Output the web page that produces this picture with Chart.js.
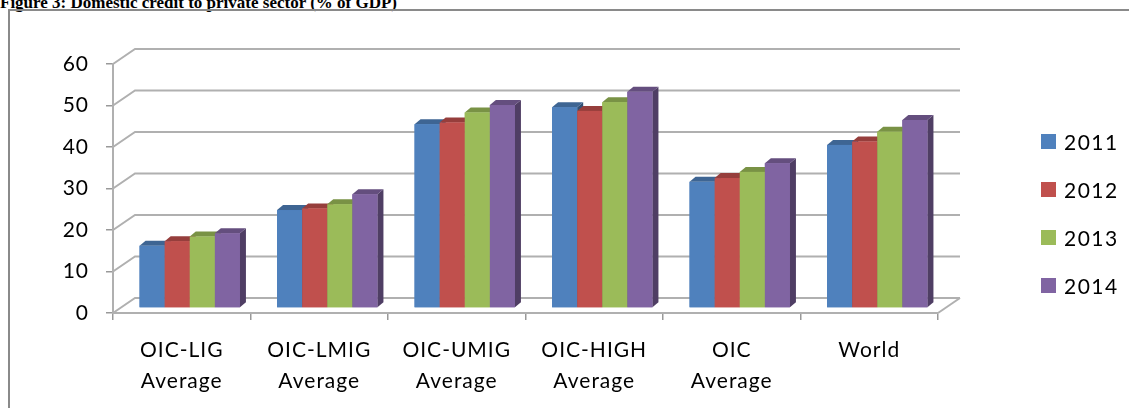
<!DOCTYPE html>
<html>
<head>
<meta charset="utf-8">
<script src="https://cdn.jsdelivr.net/npm/chart.js@4.4.1/dist/chart.umd.min.js"></script>
<style>
  html, body { margin: 0; padding: 0; background: #fff; }
  #wrap { position: relative; width: 1129px; height: 408px; overflow: hidden; }
  #title { position: absolute; left: 0; top: -6px; font: bold 17px "Liberation Serif", serif; line-height: 1; white-space: nowrap; }
  #frame { position: absolute; left: 8px; top: 9px; width: 1300px; height: 600px; border: 2px solid #8a8a8a; box-sizing: border-box; }
  #chart { position: absolute; left: 0; top: 0; }
  #legend { position: absolute; left: 1041px; top: 117px; font: 21px Lato, sans-serif; letter-spacing: 1.5px; }
  .item { height: 48px; display: flex; align-items: center; }
  .sw { width: 15px; height: 15px; margin-right: 8px; }
</style>
</head>
<body>
<div id="wrap">
  <div id="title">Figure 3: Domestic credit to private sector (% of GDP)</div>
  <div id="frame"></div>
  <canvas id="chart" width="1129" height="408"></canvas>
  <div id="legend"></div>
</div>
<script>
const categories = [['OIC-LIG', 'Average'], ['OIC-LMIG', 'Average'], ['OIC-UMIG', 'Average'],
  ['OIC-HIGH', 'Average'], ['OIC', 'Average'], ['World']];
const years = ['2011', '2012', '2013', '2014'];
const s2011 = [15.0, 23.6, 44.3, 48.4, 30.4, 39.3];
const s2012 = [16.1, 24.0, 44.7, 47.5, 31.3, 40.1];
const s2013 = [17.2, 25.0, 47.1, 49.6, 32.8, 42.5];
const s2014 = [18.0, 27.4, 48.9, 52.1, 34.9, 45.3];
const colors = ['#4F81BD', '#C0504D', '#9BBB59', '#8064A2'];

// 3d look: wall offset, bar plane offset, bar depth
const WALL = { dx: 22, dy: 15 };
const PLANE = { dx: 8, dy: 5 };
const DEPTH = { dx: 6, dy: 5 };

function shade(hex, f) {
  const n = parseInt(hex.slice(1), 16);
  const r = Math.round(((n >> 16) & 255) * f);
  const g = Math.round(((n >> 8) & 255) * f);
  const b = Math.round((n & 255) * f);
  return `rgb(${r},${g},${b})`;
}

const threeD = {
  id: 'threeD',
  beforeDraw(chart) {
    chart.ctx.letterSpacing = '1px';
  },
  beforeDatasetsDraw(chart) {
    const { ctx, chartArea: a, scales: { y } } = chart;
    ctx.save();
    ctx.strokeStyle = '#b0b0b0';
    ctx.lineWidth = 2;
    y.ticks.forEach(t => {
      const py = y.getPixelForValue(t.value);
      ctx.beginPath();
      ctx.moveTo(a.left, py);
      ctx.lineTo(a.left + WALL.dx, py - WALL.dy);
      ctx.lineTo(a.right + WALL.dx, py - WALL.dy);
      ctx.stroke();
    });
    // right edge of the floor
    ctx.beginPath();
    ctx.moveTo(a.right, a.bottom);
    ctx.lineTo(a.right + WALL.dx, a.bottom - WALL.dy);
    ctx.stroke();
    ctx.restore();
    // bars sit a little behind the front axis
    ctx.save();
    ctx.translate(PLANE.dx, -PLANE.dy);
  },
  afterDatasetsDraw(chart) {
    const ctx = chart.ctx;
    // chart.js paints datasets last-to-first, so repaint left to right with depth faces
    const metas = chart.getSortedVisibleDatasetMetas();
    categories.forEach((_, j) => {
      metas.forEach(meta => {
        const el = meta.data[j];
        const c = colors[meta.index];
        const l = el.x - el.width / 2, r = el.x + el.width / 2;
        ctx.fillStyle = shade(c, 0.62);
        ctx.beginPath();
        ctx.moveTo(r, el.y);
        ctx.lineTo(r + DEPTH.dx, el.y - DEPTH.dy);
        ctx.lineTo(r + DEPTH.dx, el.base - DEPTH.dy);
        ctx.lineTo(r, el.base);
        ctx.closePath();
        ctx.fill();
        ctx.fillStyle = shade(c, 0.78);
        ctx.beginPath();
        ctx.moveTo(l, el.y);
        ctx.lineTo(l + DEPTH.dx, el.y - DEPTH.dy);
        ctx.lineTo(r + DEPTH.dx, el.y - DEPTH.dy);
        ctx.lineTo(r, el.y);
        ctx.closePath();
        ctx.fill();
        ctx.fillStyle = c;
        ctx.fillRect(l, el.y, el.width, el.base - el.y);
      });
    });
    ctx.restore();
  }
};

const series = [s2011, s2012, s2013, s2014];

const chart = new Chart(document.getElementById('chart'), {
  type: 'bar',
  data: {
    labels: categories,
    datasets: series.map((d, i) => ({
      label: years[i],
      data: d,
      backgroundColor: colors[i],
      borderWidth: 0,
      categoryPercentage: 0.73,
      barPercentage: 1.0,
      clip: false
    }))
  },
  options: {
    responsive: false,
    animation: false,
    layout: { padding: { left: 0, right: 191, top: 64, bottom: 0 } },
    plugins: { legend: { display: false }, tooltip: { enabled: false } },
    scales: {
      x: {
        afterFit(s) { s.height = 95; },
        grid: { drawOnChartArea: false, tickLength: 7, color: '#999', lineWidth: 1.5 },
        border: { display: true, color: '#b0b0b0', width: 2 },
        ticks: { color: '#000', padding: 14, font: { family: 'Lato', size: 21, lineHeight: 1.5 } }
      },
      y: {
        min: 0,
        max: 60,
        afterFit(s) { s.width = 113; },
        grid: { drawOnChartArea: false, tickLength: 7, color: '#999', lineWidth: 1.5 },
        border: { display: true, color: '#b0b0b0', width: 2 },
        ticks: { stepSize: 10, color: '#000', padding: 17, font: { family: 'Lato', size: 21 } }
      }
    }
  },
  plugins: [threeD]
});

const legend = document.getElementById('legend');
years.forEach((yr, i) => {
  const item = document.createElement('div');
  item.className = 'item';
  item.innerHTML = `<div class="sw" style="background:${colors[i]}"></div><span>${yr}</span>`;
  legend.appendChild(item);
});
</script>
</body>
</html>
